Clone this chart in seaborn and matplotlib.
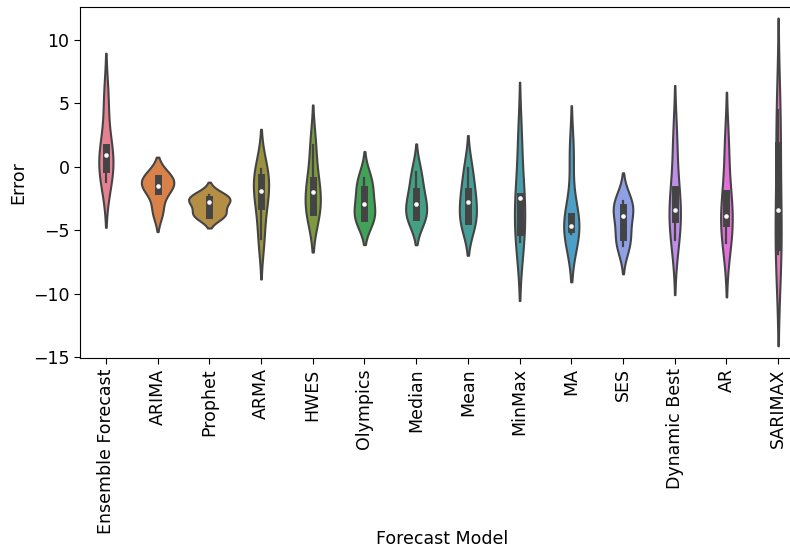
import matplotlib
matplotlib.use("Agg")
import matplotlib.pyplot as plt
import seaborn as sns
import pandas as pd

# Forecast error per model over the evaluation windows
models = ["Ensemble Forecast", "ARIMA", "Prophet", "ARMA", "HWES", "Olympics",
          "Median", "Mean", "MinMax", "MA", "SES", "Dynamic Best", "AR", "SARIMAX"]

ensemble_err = [-1.15, -0.18, 0.94, 1.55, 5.35]
arima_err = [-3.50, -1.86, -1.47, -0.84, -0.82]
prophet_err = [-3.78, -3.75, -2.78, -2.54, -2.23]
arma_err = [-5.68, -3.07, -1.89, -0.81, -0.18]
hwes_err = [-3.55, -3.51, -1.94, -1.02, 1.73]
olympics_err = [-4.06, -4.03, -2.91, -1.73, -0.84]
median_err = [-3.94, -3.91, -2.91, -1.86, -0.37]
mean_err = [-4.38, -4.25, -2.75, -1.86, -0.10]
minmax_err = [-5.95, -5.16, -2.46, -2.28, 2.10]
ma_err = [-5.27, -4.90, -4.64, -3.85, 1.05]
ses_err = [-6.21, -5.48, -3.83, -3.12, -2.67]
dynamic_best_err = [-5.74, -4.09, -3.43, -1.75, 2.10]
ar_err = [-6.00, -4.43, -3.85, -2.07, 1.65]
sarimax_err = [-6.84, -6.32, -3.43, 1.73, 4.48]

errors = [ensemble_err, arima_err, prophet_err, arma_err, hwes_err, olympics_err,
          median_err, mean_err, minmax_err, ma_err, ses_err, dynamic_best_err,
          ar_err, sarimax_err]

rows = [(m, e) for m, errs in zip(models, errors) for e in errs]
df = pd.DataFrame(rows, columns=["Forecast Model", "Error"])

plt.rcParams["font.size"] = 12.5
plt.rcParams["font.family"] = ["DejaVu Sans"]

fig = plt.figure(figsize=(7.9, 5.52), dpi=100)
ax = fig.add_axes([80 / 790, 194 / 552, 724 / 790, 351 / 552])

sns.violinplot(data=df, x="Forecast Model", y="Error", hue="Forecast Model",
               order=models, hue_order=models, palette=sns.husl_palette(len(models)),
               legend=False, linewidth=1.5, linecolor="#444444", saturation=0.75,
               density_norm="area", common_norm=True,
               inner="box",
               inner_kws=dict(box_width=5, whis_width=1.6, marker="o",
                              markersize=2.8, markeredgewidth=0.4),
               ax=ax)

ax.set_ylim(-15.05, 12.6)
ax.set_xlim(-0.5, len(models) - 0.5)
ax.tick_params(axis="x", labelrotation=90, labelsize=12.5, length=4)
ax.tick_params(axis="y", labelsize=12.5, length=4)
ax.set_xlabel("Forecast Model", fontsize=12.5, labelpad=-3)
ax.set_ylabel("Error", fontsize=12.5)

fig.savefig("out.png", dpi=100)
